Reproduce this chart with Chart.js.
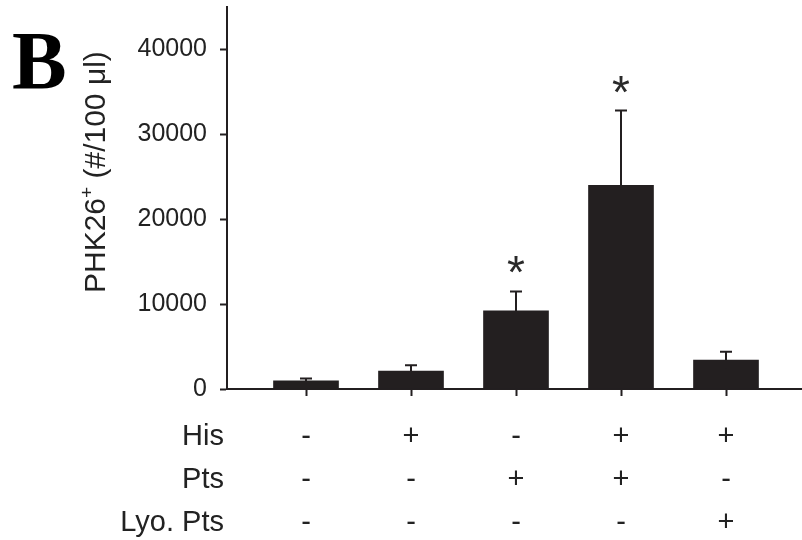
<!DOCTYPE html>
<html><head><meta charset="utf-8">
<script src="https://cdn.jsdelivr.net/npm/chart.js@4"></script>
<style>html,body{margin:0;padding:0;background:#fff}#wrap{width:802px;height:540px;position:relative}</style>
</head><body><div id="wrap"><canvas id="c" width="802" height="540"></canvas></div>
<script>
// ---- data ----
const groups = [1, 2, 3, 4, 5];
const rowLabels = ['His', 'Pts', 'Lyo. Pts'];
const his = ['-', '+', '-', '+', '+'];
const pts = ['-', '-', '+', '+', '-'];
const lyoPts = ['-', '-', '-', '-', '+'];
const means = [950, 2100, 9200, 24000, 3400];
const errors = [300, 700, 2300, 8800, 1000];
const significance = ['', '', '*', '*', ''];
const yTicks = [0, 10000, 20000, 30000, 40000];
const yTitleParts = ['PHK26', '+', ' (#/100 μl)'];
const panelLabel = 'B';

// ---- style ----
const INK = '#231f20';
const TXT = '#222222';
const SANS = '"Liberation Sans", Arial, sans-serif';
const X_LINE_H = 43;
const X_PAD = 19;
const TICK_LEN = 7;

const decorations = {
  id: 'decorations',
  afterDatasetsDraw(chart) {
    const ctx = chart.ctx;
    const ys = chart.scales.y;
    const meta = chart.getDatasetMeta(0);
    ctx.save();
    ctx.strokeStyle = INK;
    ctx.lineWidth = 2;
    meta.data.forEach((el, i) => {
      const top = ys.getPixelForValue(means[i] + errors[i]);
      const base = ys.getPixelForValue(means[i] - errors[i]);
      ctx.beginPath();
      ctx.moveTo(el.x, base);
      ctx.lineTo(el.x, top);
      ctx.moveTo(el.x - 6, top);
      ctx.lineTo(el.x + 6, top);
      ctx.stroke();
      if (significance[i]) {
        ctx.fillStyle = '#2a2a2a';
        ctx.font = '46px ' + SANS;
        ctx.textAlign = 'center';
        ctx.textBaseline = 'alphabetic';
        ctx.fillText(significance[i], el.x, top - 3);
      }
    });
    ctx.restore();
  },
  afterDraw(chart) {
    const ctx = chart.ctx;
    const xs = chart.scales.x;
    ctx.save();
    // row labels
    ctx.fillStyle = TXT;
    ctx.font = '29px ' + SANS;
    ctx.textAlign = 'right';
    ctx.textBaseline = 'middle';
    const firstY = xs.top + TICK_LEN + X_PAD + X_LINE_H / 2;
    rowLabels.forEach((t, r) => ctx.fillText(t, 224, firstY + r * X_LINE_H));
    // y title (rotated)
    ctx.save();
    ctx.translate(105, 293);
    ctx.rotate(-Math.PI / 2);
    ctx.textAlign = 'left';
    ctx.textBaseline = 'alphabetic';
    ctx.font = '30px ' + SANS;
    let x = 0;
    ctx.fillText(yTitleParts[0], x, 0);
    x += ctx.measureText(yTitleParts[0]).width;
    ctx.font = '19px ' + SANS;
    ctx.fillText(yTitleParts[1], x, -12);
    x += ctx.measureText(yTitleParts[1]).width;
    ctx.font = '30px ' + SANS;
    ctx.fillText(yTitleParts[2], x, 0);
    ctx.restore();
    // panel label
    ctx.fillStyle = '#000';
    ctx.font = 'bold 82px "Liberation Serif", "Times New Roman", serif';
    ctx.textAlign = 'left';
    ctx.textBaseline = 'alphabetic';
    ctx.fillText(panelLabel, 12, 88);
    ctx.restore();
  }
};

new Chart(document.getElementById('c'), {
  type: 'bar',
  data: {
    datasets: [{
      data: groups.map((g, i) => ({ x: g, y: means[i] })),
      backgroundColor: INK,
      borderWidth: 0,
      barThickness: 65
    }]
  },
  options: {
    responsive: false,
    devicePixelRatio: 1,
    animation: false,
    layout: { padding: { top: 7, right: 0, left: 0, bottom: 0 } },
    plugins: { legend: { display: false }, tooltip: { enabled: false } },
    scales: {
      x: {
        type: 'linear',
        offset: false,
        min: 0.2476,
        max: 5.7238,
        afterFit: s => { s.height = 151; s.paddingLeft = 0; s.paddingRight = 0; s.paddingTop = 0; s.paddingBottom = 0; },
        afterBuildTicks: s => { s.ticks = groups.map(v => ({ value: v })); },
        border: { display: true, color: INK, width: 2 },
        grid: { offset: false, drawOnChartArea: false, drawTicks: true, tickLength: TICK_LEN, tickColor: INK, tickWidth: 2 },
        ticks: {
          autoSkip: false, maxRotation: 0, minRotation: 0,
          padding: X_PAD,
          color: TXT,
          font: { family: SANS, size: 29, lineHeight: X_LINE_H + 'px' },
          callback: v => { const i = groups.indexOf(v); return i < 0 ? '' : [his[i], pts[i], lyoPts[i]]; }
        }
      },
      y: {
        min: 0,
        max: 45000,
        afterFit: s => { s.width = 227; s.paddingTop = 0; s.paddingBottom = 0; s.paddingLeft = 0; s.paddingRight = 0; },
        afterBuildTicks: s => { s.ticks = yTicks.map(v => ({ value: v })); },
        border: { display: true, color: INK, width: 2 },
        grid: { drawOnChartArea: false, drawTicks: true, tickLength: TICK_LEN, tickColor: INK, tickWidth: 2 },
        ticks: {
          padding: 13,
          color: TXT,
          font: { family: SANS, size: 25 },
          callback: v => String(v)
        }
      }
    }
  },
  plugins: [decorations]
});
</script></body></html>
